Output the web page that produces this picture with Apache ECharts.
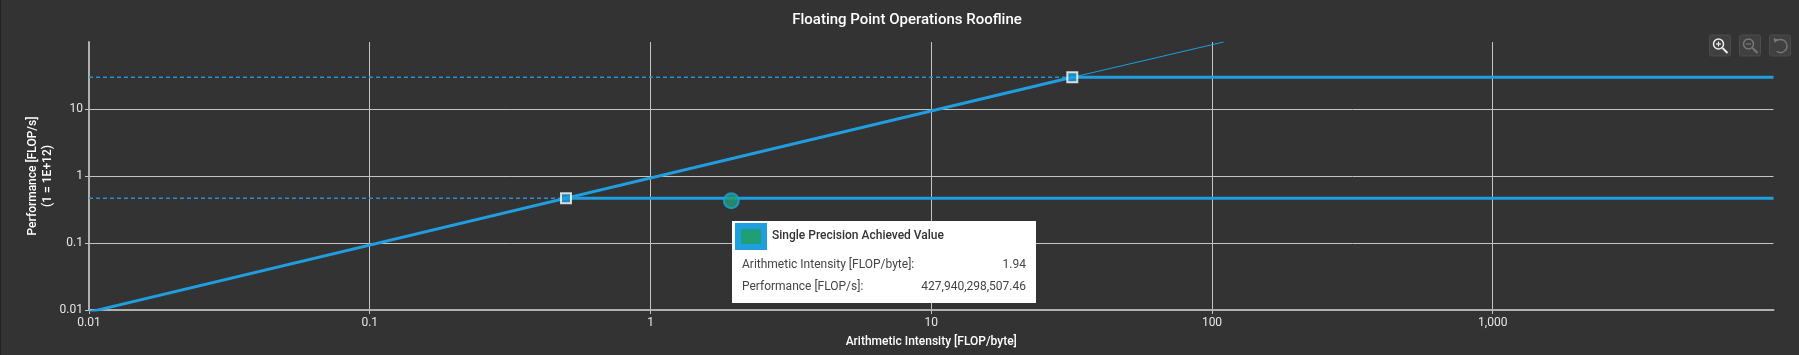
<!DOCTYPE html>
<html><head><meta charset="utf-8">
<style>html,body{margin:0;padding:0;background:#333;width:1799px;height:355px;overflow:hidden}#c{width:1799px;height:355px}</style>
<script src="https://cdn.jsdelivr.net/npm/echarts@6/dist/echarts.min.js"></script>
</head><body><div id="c"></div>
<script>
const title = 'Floating Point Operations Roofline';
const xName = 'Arithmetic Intensity [FLOP/byte]';
const yName = 'Performance [FLOP/s]\n(1 = 1E+12)';
const xRange = [0.01, 10000];
const yRange = [0.01, 100];
const xTickLabels = {0.01:'0.01',0.1:'0.1',1:'1',10:'10',100:'100',1000:'1,000'};
const yTickLabels = {0.01:'0.01',0.1:'0.1',1:'1',10:'10'};
const slopeThick = [[0.01,0.0093],[31.8,29.7]];
const slopeThin = [[31.8,29.7],[110,100]];
const flatHigh = [[31.8,29.7],[10000,29.7]];
const flatLow = [[0.5,0.465],[10000,0.465]];
const dashHigh = [[0.01,29.7],[31.8,29.7]];
const dashLow = [[0.01,0.465],[0.5,0.465]];
const knees = [[0.5,0.465],[31.8,29.7]];
const achieved = [[1.94,0.42794]];
const tipName = 'Single Precision Achieved Value';
const tipXLabel = 'Arithmetic Intensity [FLOP/byte]:';
const tipYLabel = 'Performance [FLOP/s]:';
const tipXValue = '1.94';
const tipYValue = '427,940,298,507.46';

const BLUE='#1f9fe0', GREEN='#1f9e77', GRID='#c4c4c4', AXIS='#b0b0b0', TXT='#e6e6e6';
const chart = echarts.init(document.getElementById('c'), null, {renderer:'canvas'});
const line = (name,data,width,extra)=>({type:'line',name,data,symbol:'none',silent:true,
  lineStyle:{color:BLUE,width,...(extra||{})},animation:false,z:3});
function btn(x,icon,c){
  return {type:'group',x,y:35,children:[
    {type:'rect',shape:{x:0,y:0,width:21,height:21,r:2},style:{fill:'#404040',stroke:'#4c4c4c',lineWidth:1}},
    ...icon(c)
  ]};
}
const mag=(c,plus)=>[
  {type:'circle',shape:{cx:9,cy:9,r:5},style:{fill:'none',stroke:c,lineWidth:1.5}},
  {type:'line',shape:{x1:13,y1:13,x2:18,y2:18},style:{stroke:c,lineWidth:2}},
  {type:'line',shape:{x1:6.5,y1:9,x2:11.5,y2:9},style:{stroke:c,lineWidth:1.2}},
  ...(plus?[{type:'line',shape:{x1:9,y1:6.5,x2:9,y2:11.5},style:{stroke:c,lineWidth:1.2}}]:[])
];
const undo=c=>[
  {type:'arc',shape:{cx:11,cy:11,r:6.5,startAngle:-2.2,endAngle:2.2,clockwise:true},style:{fill:'none',stroke:c,lineWidth:1.5}},
  {type:'polygon',shape:{points:[[4,3],[9,4.5],[5,8]]},style:{fill:c}}
];
chart.setOption({
  animation:false,
  backgroundColor:'#333333',
  textStyle:{fontFamily:'Roboto'},
  title:{text:title,left:902,top:8,textAlign:'center',textStyle:{color:'#fff',fontSize:15,fontWeight:500,fontFamily:'Roboto'}},
  grid:{left:89,right:25.5,top:42,bottom:45,containLabel:false},
  tooltip:{show:true,trigger:'item',alwaysShowContent:true,transitionDuration:0,showDelay:0,hideDelay:0,
    position:[732,221],backgroundColor:'#fff',borderWidth:0,padding:0,extraCssText:'border-radius:0;box-shadow:none;',
    formatter:()=>`<div style="width:304px;height:82px;position:relative;font-family:Roboto;font-size:12px;color:#444;line-height:14px">
      <div style="position:absolute;left:3px;top:2px;width:20px;height:15px;border:6px solid ${BLUE};background:${GREEN}"></div>
      <div style="position:absolute;left:40px;top:7px;font-weight:500;color:#333">${tipName}</div>
      <div style="position:absolute;left:10px;top:36px">${tipXLabel}</div>
      <div style="position:absolute;right:10px;top:36px">${tipXValue}</div>
      <div style="position:absolute;left:10px;top:58px">${tipYLabel}</div>
      <div style="position:absolute;right:10px;top:58px">${tipYValue}</div></div>`},
  xAxis:{type:'log',logBase:10,min:xRange[0],max:xRange[1],name:xName,nameLocation:'middle',nameGap:26,nameMoveOverlap:false,
    nameTextStyle:{color:'#fff',fontSize:12,fontWeight:500,fontFamily:'Roboto'},
    axisLine:{show:true,lineStyle:{color:AXIS,width:2}},axisTick:{show:true,length:4,lineStyle:{color:GRID}},minorTick:{show:false},
    axisLabel:{color:TXT,fontSize:12,margin:7,fontFamily:'Roboto',showMaxLabel:false,formatter:v=>xTickLabels[+(+v).toPrecision(3)]||''},
    splitLine:{show:true,showMaxLine:false,lineStyle:{color:GRID,width:1}}},
  yAxis:{type:'log',logBase:10,min:yRange[0],max:yRange[1],name:yName,nameLocation:'middle',nameGap:34,nameRotate:90,nameMoveOverlap:false,
    nameTextStyle:{color:'#fff',fontSize:12,fontWeight:500,lineHeight:15,fontFamily:'Roboto'},
    axisLine:{show:true,lineStyle:{color:AXIS,width:2}},axisTick:{show:true,length:4,lineStyle:{color:GRID}},
    axisLabel:{color:TXT,fontSize:12,margin:6,fontFamily:'Roboto',showMaxLabel:false,formatter:v=>yTickLabels[+(+v).toPrecision(3)]||''},
    splitLine:{show:true,showMaxLine:false,lineStyle:{color:GRID,width:1}}},
  series:[
    line('dashHigh',dashHigh,1.5,{type:[4,3],color:'#2a90d0'}),
    line('dashLow',dashLow,1.5,{type:[4,3],color:'#2a90d0'}),
    line('slope',slopeThick,3),
    line('slopeThin',slopeThin,1),
    line('flatHigh',flatHigh,3),
    line('flatLow',flatLow,3),
    {type:'scatter',name:'knees',data:knees,symbol:'rect',symbolSize:10,silent:true,z:5,
      itemStyle:{color:BLUE,borderColor:'#fff',borderWidth:2}},
    {type:'scatter',name:tipName,data:achieved,symbol:'circle',symbolSize:15,z:6,
      itemStyle:{color:GREEN,borderColor:BLUE,borderWidth:2}}
  ],
  graphic:[
    btn(1709.5,c=>mag(c,true),'#eeeeee'),
    btn(1739.5,c=>mag(c,false),'#777777'),
    btn(1769.5,undo,'#777777'),
    {type:'rect',shape:{x:0,y:0,width:1,height:355},style:{fill:'#222'},silent:true}
  ]
});
chart.dispatchAction({type:'showTip',seriesIndex:7,dataIndex:0});
</script></body></html>
